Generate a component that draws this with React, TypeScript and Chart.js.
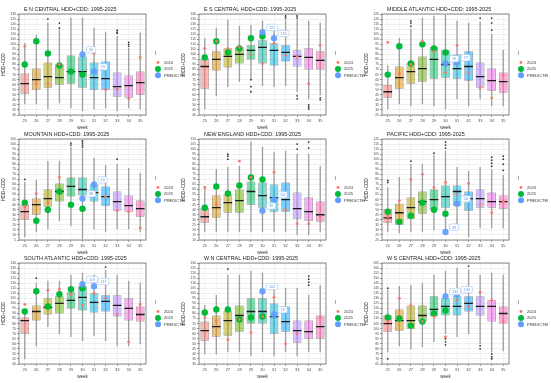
import React, { useEffect, useRef } from "react";
import { Chart, registerables } from "chart.js";
Chart.register(...registerables);

const WEEKS = ["25", "26", "27", "28", "29", "30", "31", "32", "33", "34", "35"];
const BOX_COLORS = ["#F8766D", "#DB8E00", "#AEA200", "#64B200", "#00BD5C", "#00C1A7", "#00BADE", "#00A6FF", "#B385FF", "#EF67EB", "#FF63B6"];
const C2024 = "#F8766D";
const C2025 = "#00BA38";
const CPRED = "#619CFF";
const LEGEND_LABELS = ["2024", "2025", "PREDICTED"];
const LEGEND_TITLE = "l";
const _ = null;

// E N CENTRAL
const EN_LOW = [41, 41, 36, 42, 37, 34, 36, 37, 34, 37, 36];
const EN_Q1 = [51, 55, 57, 60, 61, 57, 55, 55, 48, 47, 50];
const EN_MED = [61, 65, 68, 67, 73, 73, 67, 66, 58, 59, 62];
const EN_Q3 = [71, 76, 82, 80, 89, 88, 82, 83, 72, 69, 73];
const EN_HIGH = [101, 109, 121, 114, 126, 126, 116, 112, 108, 96, 111];
const EN_2024 = [98, 61, 61, 80, _, _, 91, 55, 56, 46, 87];
const EN_2025 = [80, 103, 91, 79, 73, 70, _, _, _, _, _];
const EN_PRED = [_, _, _, _, _, 90, 73, _, _, _, _];
const EN_OUT = [[27, 125], [28, 121], [28, 116], [33, 114], [33, 112], [33, 111], [34, 102], [34, 100], [34, 98]];

// E S CENTRAL
const ES_LOW = [46, 59, 68, 73, 76, 69, 68, 69, 63, 56, 60];
const ES_Q1 = [66, 84, 87, 91, 95, 91, 89, 93, 88, 85, 85];
const ES_MED = [88, 95, 98, 100, 104, 107, 104, 102, 98, 97, 94];
const ES_Q3 = [96, 103, 106, 107, 109, 114, 111, 109, 104, 106, 103];
const ES_HIGH = [116, 126, 134, 128, 129, 133, 126, 134, 134, 133, 131];
const ES_2024 = [106, 113, 106, 107, 100, 91, 111, 99, 98, 71, 109];
const ES_2025 = [97, 113, 102, 106, 116, 118, _, _, _, _, _];
const ES_PRED = [_, _, _, _, _, 122, 116, _, _, _, _];
const ES_OUT = [[29, 75], [29, 68], [29, 63], [32, 138], [32, 136], [33, 138], [33, 136], [33, 59], [33, 56], [34, 50], [34, 48], [34, 46], [35, 57], [35, 55]];

// MIDDLE ATLANTIC
const MA_LOW = [31, 36, 34, 36, 34, 31, 41, 34, 41, 34, 34];
const MA_Q1 = [42, 51, 56, 58, 61, 62, 61, 59, 52, 49, 47];
const MA_MED = [48, 62, 68, 71, 80, 75, 71, 73, 63, 59, 58];
const MA_Q3 = [55, 73, 77, 83, 92, 89, 85, 88, 77, 71, 67];
const MA_HIGH = [74, 101, 110, 121, 123, 124, 118, 116, 117, 105, 89];
const MA_2024 = [97, 66, 75, 98, 88, 67, 94, 67, 52, 42, 64];
const MA_2025 = [65, 93, 76, 95, 91, 87, _, _, _, _, _];
const MA_PRED = [_, _, _, _, _, 76, 77, _, _, _, _];
const MA_OUT = [[27, 118], [27, 116], [27, 113], [33, 121], [34, 121], [34, 116], [34, 109]];

// MOUNTAIN
const MT_LOW = [8, 13, 16, 24, 19, 6, 16, 13, 16, 16, 13];
const MT_Q1 = [25, 30, 38, 43, 48, 49, 43, 39, 34, 33, 28];
const MT_MED = [33, 40, 46, 53, 58, 55, 52, 48, 43, 39, 36];
const MT_Q3 = [40, 46, 55, 61, 67, 67, 60, 58, 53, 49, 44];
const MT_HIGH = [62, 64, 83, 83, 97, 95, 86, 79, 80, 76, 71];
const MT_2024 = [38, 51, 42, 67, _, _, _, 48, 34, 33, 17];
const MT_2025 = [42, 24, 35, 53, 40, 36, _, _, _, _, _];
const MT_PRED = [_, _, _, _, _, 46, 60, _, _, _, _];
const MT_OUT = [[25, 65], [29, 101], [29, 99], [30, 103], [30, 101], [30, 99], [30, 97], [33, 85]];

// NEW ENGLAND
const NE_LOW = [18, 18, 18, 18, 18, 18, 18, 18, 15, 15, 18];
const NE_Q1 = [27, 32, 37, 37, 45, 42, 38, 38, 31, 29, 28];
const NE_MED = [33, 42, 47, 49, 58, 54, 52, 50, 41, 38, 35];
const NE_Q3 = [42, 54, 55, 60, 68, 67, 65, 67, 57, 52, 48];
const NE_HIGH = [62, 80, 82, 83, 107, 102, 97, 98, 95, 95, 83];
const NE_2024 = [62, 45, _, 88, 72, _, 77, 40, 26, 26, 33];
const NE_2025 = [42, 63, 56, 64, 72, 70, _, _, _, _, _];
const NE_PRED = [_, _, _, _, _, 39, 50, _, _, _, _];
const NE_OUT = [[27, 95], [27, 93], [27, 90], [33, 105], [33, 100], [34, 107], [34, 101]];

// PACIFIC
const PA_LOW = [28, 27, 28, 28, 30, 25, 35, 23, 32, 32, 32];
const PA_Q1 = [37, 35, 41, 46, 50, 52, 54, 49, 52, 52, 51];
const PA_MED = [42, 47, 52, 58, 60, 63, 68, 61, 61, 58, 58];
const PA_Q3 = [51, 56, 62, 68, 70, 74, 74, 68, 70, 67, 64];
const PA_HIGH = [72, 82, 95, 95, 104, 108, 92, 88, 92, 90, 84];
const PA_2024 = [43, 59, 80, 85, 72, 77, 65, 76, 55, 47, 58];
const PA_2025 = [48, 38, 44, 57, 50, 46, _, _, _, _, _];
const PA_PRED = [_, _, _, _, _, 28, 56, _, _, _, _];
const PA_OUT = [[25, 79], [25, 77], [27, 98], [29, 106], [30, 117], [30, 114], [30, 111], [34, 102], [34, 99], [34, 96], [34, 93], [35, 103], [35, 100], [35, 95], [35, 89]];

// SOUTH ATLANTIC
const SA_LOW = [45, 58, 77, 70, 67, 63, 68, 63, 58, 58, 60];
const SA_Q1 = [70, 83, 89, 90, 95, 93, 91, 92, 87, 83, 82];
const SA_MED = [83, 92, 96, 100, 103, 106, 101, 102, 98, 95, 89];
const SA_Q3 = [86, 98, 105, 107, 111, 117, 110, 108, 108, 105, 97];
const SA_HIGH = [93, 120, 122, 122, 128, 130, 128, 133, 128, 122, 120];
const SA_2024 = [99, _, 113, 114, 109, 98, 110, 105, 89, 62, 99];
const SA_2025 = [92, 112, 97, 109, 114, 115, _, _, _, _, _];
const SA_PRED = [_, _, _, _, _, 119, 117, _, _, _, _];
const SA_OUT = [[26, 125], [32, 136]];

// W N CENTRAL
const WN_LOW = [40, 40, 42, 42, 38, 42, 38, 42, 38, 42, 42];
const WN_Q1 = [53, 57, 58, 62, 70, 70, 60, 62, 51, 55, 55];
const WN_MED = [63, 67, 73, 78, 82, 82, 77, 72, 63, 62, 67];
const WN_Q3 = [72, 78, 83, 88, 95, 95, 90, 87, 73, 73, 78];
const WN_HIGH = [88, 98, 118, 118, 122, 120, 107, 105, 105, 98, 108];
const WN_2024 = [76, 73, 54, 74, 61, 77, 96, 50, 60, _, 76];
const WN_2025 = [81, 84, 84, 74, 76, 77, _, _, _, _, _];
const WN_PRED = [_, _, _, _, _, 102, 79, _, _, _, _];
const WN_OUT = [[27, 124], [34, 117], [34, 114], [34, 111], [34, 108]];

// W S CENTRAL
const WS_LOW = [77, 83, 80, 82, 87, 95, 92, 95, 85, 77, 78];
const WS_Q1 = [97, 98, 100, 107, 112, 113, 113, 117, 113, 107, 105];
const WS_MED = [105, 108, 108, 113, 119, 122, 122, 125, 122, 122, 115];
const WS_Q3 = [113, 119, 123, 123, 132, 130, 132, 132, 132, 128, 122];
const WS_HIGH = [138, 142, 143, 145, 153, 157, 160, 158, 153, 155, 153];
const WS_2024 = [107, 130, 123, 107, 112, 92, 128, 122, 136, 128, 107];
const WS_2025 = [111, 110, 103, 107, 115, 118, _, _, _, _, _];
const WS_PRED = [_, _, _, _, _, 132, 134, _, _, _, _];
const WS_OUT = [[25, 140], [25, 70], [30, 90], [30, 87], [30, 84], [32, 162], [33, 83], [33, 80], [34, 75], [34, 72], [34, 70]];

const TITLES = [
  "E N CENTRAL HDD+CDD: 1995-2025",
  "E S CENTRAL HDD+CDD: 1995-2025",
  "MIDDLE ATLANTIC HDD+CDD: 1995-2025",
  "MOUNTAIN HDD+CDD: 1995-2025",
  "NEW ENGLAND HDD+CDD: 1995-2025",
  "PACIFIC HDD+CDD: 1995-2025",
  "SOUTH ATLANTIC HDD+CDD: 1995-2025",
  "W N CENTRAL HDD+CDD: 1995-2025",
  "W S CENTRAL HDD+CDD: 1995-2025",
];
const Y_MIN = [30, 40, 25, 5, 10, 20, 40, 30, 65];
const Y_MAX = [130, 140, 125, 105, 110, 120, 140, 130, 165];

const REGIONS = [
  [EN_LOW, EN_Q1, EN_MED, EN_Q3, EN_HIGH, EN_2024, EN_2025, EN_PRED, EN_OUT],
  [ES_LOW, ES_Q1, ES_MED, ES_Q3, ES_HIGH, ES_2024, ES_2025, ES_PRED, ES_OUT],
  [MA_LOW, MA_Q1, MA_MED, MA_Q3, MA_HIGH, MA_2024, MA_2025, MA_PRED, MA_OUT],
  [MT_LOW, MT_Q1, MT_MED, MT_Q3, MT_HIGH, MT_2024, MT_2025, MT_PRED, MT_OUT],
  [NE_LOW, NE_Q1, NE_MED, NE_Q3, NE_HIGH, NE_2024, NE_2025, NE_PRED, NE_OUT],
  [PA_LOW, PA_Q1, PA_MED, PA_Q3, PA_HIGH, PA_2024, PA_2025, PA_PRED, PA_OUT],
  [SA_LOW, SA_Q1, SA_MED, SA_Q3, SA_HIGH, SA_2024, SA_2025, SA_PRED, SA_OUT],
  [WN_LOW, WN_Q1, WN_MED, WN_Q3, WN_HIGH, WN_2024, WN_2025, WN_PRED, WN_OUT],
  [WS_LOW, WS_Q1, WS_MED, WS_Q3, WS_HIGH, WS_2024, WS_2025, WS_PRED, WS_OUT],
];

const FONT = "'Liberation Sans', Arial, sans-serif";
const COL_LEFT = [1, 181, 364];
const ROW_TOP = [3, 128, 252];
const CELL_W = 184;
const CELL_H = 127;
const Y_AXIS_W = 18;
const X_AXIS_H = 15;
const PAD_TOP = 11;
const PAD_RIGHT = 39;

function alpha(hex: string, a: number) {
  const r = parseInt(hex.slice(1, 3), 16);
  const g = parseInt(hex.slice(3, 5), 16);
  const b = parseInt(hex.slice(5, 7), 16);
  return `rgba(${r},${g},${b},${a})`;
}

const frame = {
  id: "frame",
  beforeDatasetsDraw(chart: any) {
    const { ctx, chartArea: a } = chart;
    ctx.save();
    ctx.strokeStyle = "#555555";
    ctx.lineWidth = 0.7;
    ctx.strokeRect(a.left, a.top, a.right - a.left, a.bottom - a.top);
    ctx.restore();
  },
};

const headerAndLegend = {
  id: "headerAndLegend",
  afterDraw(chart: any, _args: any, opts: any) {
    const { ctx, chartArea: a } = chart;
    ctx.save();
    ctx.font = `5.4px ${FONT}`;
    ctx.fillStyle = "#1a1a1a";
    ctx.textAlign = "left";
    ctx.textBaseline = "middle";
    ctx.fillText(opts.title, a.left + 5, 7);
    const cy = (a.top + a.bottom) / 2;
    const lx = a.right + 9;
    ctx.font = `4.5px ${FONT}`;
    ctx.fillStyle = "#333";
    ctx.fillText(LEGEND_TITLE, lx, cy - 11);
    const items = [
      { t: LEGEND_LABELS[0], c: C2024, r: 1.4 },
      { t: LEGEND_LABELS[1], c: C2025, r: 3 },
      { t: LEGEND_LABELS[2], c: CPRED, r: 3 },
    ];
    ctx.font = `4px ${FONT}`;
    items.forEach((it, i) => {
      const y = cy - 2 + i * 6.4;
      ctx.beginPath();
      ctx.arc(lx + 3, y, it.r, 0, Math.PI * 2);
      ctx.fillStyle = it.c;
      ctx.fill();
      ctx.fillStyle = "#333";
      ctx.fillText(it.t, lx + 9, y + 0.2);
    });
    ctx.restore();
  },
};

const predLabels = {
  id: "predLabels",
  afterDatasetsDraw(chart: any) {
    const idx = chart.data.datasets.findIndex((d: any) => d.label === "PREDICTED");
    if (idx < 0) return;
    const meta = chart.getDatasetMeta(idx);
    const data = chart.data.datasets[idx].data;
    const { ctx } = chart;
    ctx.save();
    ctx.font = `3.8px ${FONT}`;
    meta.data.forEach((el: any, i: number) => {
      const v = data[i];
      if (v == null) return;
      const txt = String(Math.round(v));
      const w = ctx.measureText(txt).width + 5;
      const h = 6.5;
      const x = el.x + 4;
      const y = el.y - 8;
      ctx.beginPath();
      ctx.roundRect(x, y, w, h, 1.5);
      ctx.fillStyle = "rgba(255,255,255,0.95)";
      ctx.fill();
      ctx.strokeStyle = "#9cc2f3";
      ctx.lineWidth = 0.6;
      ctx.stroke();
      ctx.fillStyle = "#6a9be6";
      ctx.textAlign = "center";
      ctx.textBaseline = "middle";
      ctx.fillText(txt, x + w / 2, y + h / 2 + 0.3);
    });
    ctx.restore();
  },
};

function Panel({ index }: { index: number }) {
  const ref = useRef<HTMLCanvasElement>(null);
  useEffect(() => {
    const [low, q1, med, q3, high, y24, y25, pred, out] = REGIONS[index] as any[];
    const halfBox = (c: any) => {
      const a = c.chart.chartArea;
      return a ? ((a.right - a.left) / WEEKS.length) * 0.75 / 2 : 4;
    };
    const chart = new Chart(ref.current!, {
      type: "bar",
      data: {
        labels: WEEKS,
        datasets: [
          {
            type: "bar",
            label: "whisker",
            data: WEEKS.map((_w, i) => [low[i], high[i]]),
            backgroundColor: "#a0a0a0",
            barThickness: 0.7,
            grouped: false,
            order: 10,
          } as any,
          {
            type: "bar",
            label: "box",
            data: WEEKS.map((_w, i) => [q1[i], q3[i]]),
            backgroundColor: BOX_COLORS.map((c) => alpha(c, 0.5)),
            borderColor: "#6a6a6a",
            borderWidth: 0.5,
            borderSkipped: false,
            barPercentage: 0.75,
            categoryPercentage: 1,
            grouped: false,
            order: 9,
          } as any,
          {
            type: "line",
            label: "median",
            data: med,
            showLine: false,
            pointStyle: "line",
            pointRadius: halfBox,
            pointBorderColor: "#1a1a1a",
            pointBorderWidth: 1.3,
            order: 8,
          } as any,
          {
            type: "line",
            label: "outlier",
            data: out.map((p: number[]) => ({ x: String(p[0]), y: p[1] })),
            showLine: false,
            pointRadius: 0.9,
            pointBackgroundColor: "#333333",
            pointBorderWidth: 0,
            order: 7,
          } as any,
          {
            type: "line",
            label: "2025",
            data: y25,
            showLine: false,
            pointRadius: 3.2,
            pointBackgroundColor: C2025,
            pointBorderWidth: 0,
            order: 3,
          } as any,
          {
            type: "line",
            label: "2024",
            data: y24,
            showLine: false,
            pointRadius: 1.4,
            pointBackgroundColor: C2024,
            pointBorderWidth: 0,
            order: 2,
          } as any,
          {
            type: "line",
            label: "PREDICTED",
            data: pred,
            showLine: false,
            pointRadius: 3.2,
            pointBackgroundColor: alpha(CPRED, 0.9),
            pointBorderWidth: 0,
            order: 1,
          } as any,
        ],
      },
      options: {
        animation: false,
        responsive: false,
        devicePixelRatio: 1,
        events: [],
        layout: { padding: { top: PAD_TOP, right: PAD_RIGHT, bottom: 0, left: 0 } },
        plugins: {
          tooltip: { enabled: false },
          title: { display: false },
          legend: { display: false },
          headerAndLegend: { title: TITLES[index] },
        },
        scales: {
          x: {
            type: "category",
            offset: true,
            afterFit: (s: any) => { s.height = X_AXIS_H; },
            grid: { offset: false, color: "#ebebeb", lineWidth: 0.6, drawTicks: true, tickLength: 2, tickColor: "#555" },
            border: { display: false },
            ticks: { color: "#4d4d4d", font: { family: FONT, size: 4 }, padding: 1, maxRotation: 0, autoSkip: false },
            title: { display: true, text: "week", color: "#333", font: { family: FONT, size: 4.6 }, padding: { top: 0, bottom: 0 } },
          },
          y: {
            type: "linear",
            min: Y_MIN[index],
            max: Y_MAX[index],
            afterFit: (s: any) => { s.width = Y_AXIS_W; },
            grid: { color: "#e6e6e6", lineWidth: 0.6, tickLength: 2, tickColor: "#555" },
            border: { display: false },
            ticks: { stepSize: 5, autoSkip: false, color: "#4d4d4d", font: { family: FONT, size: 3.4 }, padding: 1 },
            title: { display: true, text: "HDD+CDD", color: "#333", font: { family: FONT, size: 4.6 }, padding: { top: 0, bottom: 0 } },
          },
        },
      } as any,
      plugins: [frame, predLabels, headerAndLegend],
    });
    return () => chart.destroy();
  }, [index]);
  const col = index % 3;
  const row = Math.floor(index / 3);
  return (
    <canvas
      ref={ref}
      width={CELL_W}
      height={CELL_H}
      style={{ position: "absolute", left: COL_LEFT[col], top: ROW_TOP[row], width: CELL_W, height: CELL_H }}
    />
  );
}

export default function App() {
  useEffect(() => {
    document.body.style.margin = "0";
    document.body.style.background = "#fff";
  }, []);
  return (
    <div style={{ position: "absolute", left: 0, top: 0, width: 551, height: 383, background: "#fff", overflow: "hidden" }}>
      {TITLES.map((_t, i) => (
        <Panel key={i} index={i} />
      ))}
    </div>
  );
}
